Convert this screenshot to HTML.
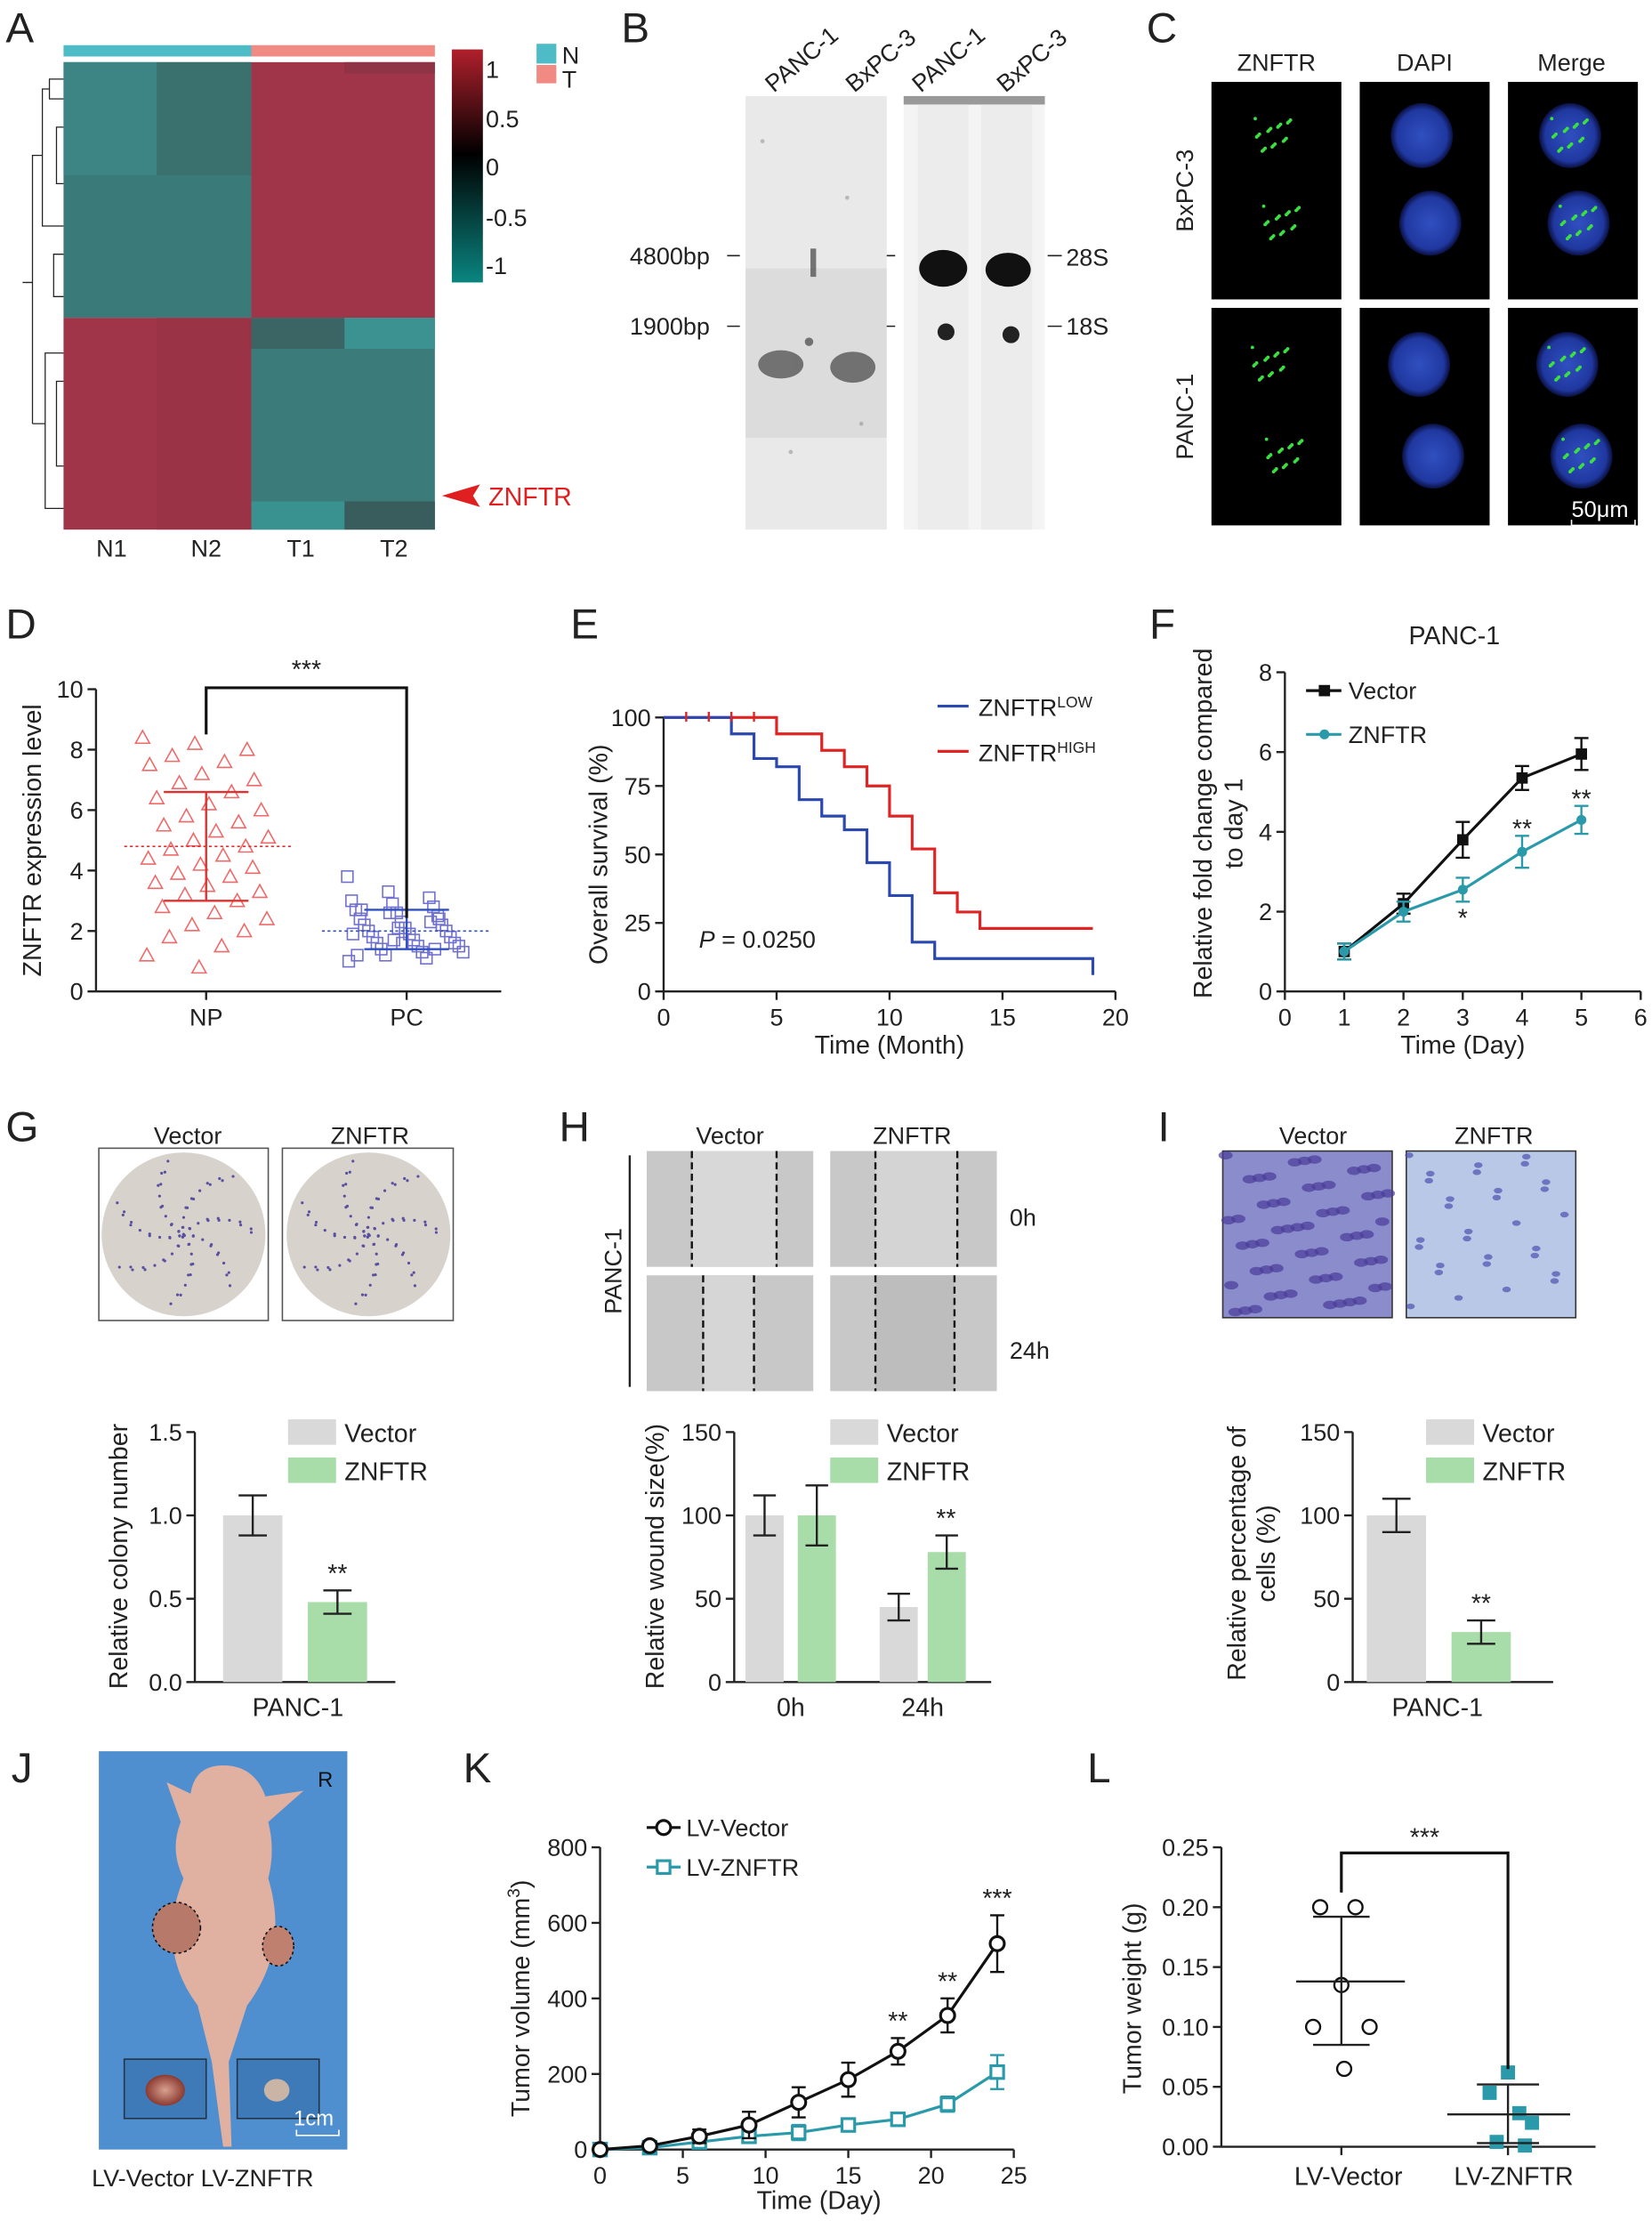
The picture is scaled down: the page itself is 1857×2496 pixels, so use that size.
<!DOCTYPE html>
<html><head><meta charset="utf-8"><style>
html,body{margin:0;padding:0;background:#fff}
svg{display:block}
text{font-family:"Liberation Sans",Arial,sans-serif;fill:#222}
</style></head><body>
<svg id="fig" width="1857" height="2496" viewBox="0 0 1170 1572.6" xmlns="http://www.w3.org/2000/svg">
<defs>
<linearGradient id="cbar" x1="0" y1="0" x2="0" y2="1">
<stop offset="0" stop-color="#b0202c"/><stop offset="0.45" stop-color="#000"/><stop offset="1" stop-color="#0a8580"/>
</linearGradient>
<radialGradient id="nuc"><stop offset="0" stop-color="#3050c0"/><stop offset="0.8" stop-color="#2038a0"/><stop offset="1" stop-color="#0a1040"/></radialGradient>
<radialGradient id="tum"><stop offset="0" stop-color="#d9a090"/><stop offset="1" stop-color="#8a3a30"/></radialGradient>
</defs>
<g font-size="30"><text x="4" y="30">A</text>
<text x="440" y="30">B</text>
<text x="812" y="30">C</text>
<text x="4" y="452">D</text>
<text x="404" y="452">E</text>
<text x="814" y="452">F</text>
<text x="4" y="808">G</text>
<text x="396" y="808">H</text>
<text x="820" y="808">I</text>
<text x="8" y="1262">J</text>
<text x="328" y="1262">K</text>
<text x="770" y="1262">L</text></g>

<!-- A heatmap -->
<g id="heat">
<rect x="45" y="32" width="133" height="8" fill="#4dbcc6"/>
<rect x="178" y="32" width="130" height="8" fill="#f08a82"/>
<rect x="45" y="44" width="133" height="181" fill="#3a7a78"/>
<rect x="178" y="44" width="130" height="181" fill="#a03448"/>
<rect x="45" y="225" width="133" height="150" fill="#a03448"/>
<rect x="178" y="225" width="130" height="150" fill="#3b7c7a"/>
<rect x="45" y="44" width="66" height="80" fill="#3c8584"/>
<rect x="111" y="44" width="67" height="80" fill="#3a716f"/>
<rect x="244" y="44" width="64" height="8" fill="#8e3446"/>
<rect x="178" y="225" width="66" height="22" fill="#3a6564"/>
<rect x="244" y="225" width="64" height="22" fill="#3c9290"/>
<rect x="178" y="355" width="66" height="20" fill="#3a9290"/>
<rect x="244" y="355" width="64" height="20" fill="#395c5c"/>
<rect x="111" y="225" width="67" height="150" fill="#983446" opacity="0.6"/>
</g>
<g stroke="#222" stroke-width="0.8" fill="none">
<path d="M45 56 H35 V70 H45 M35 63 H30 V160 H45 M30 110 H23 V300 M45 250 H32 V360 H45 M32 300 H23 M23 200 H16"/>
<path d="M45 90 H40 V130 H45 M45 180 H38 V210 H45 M45 270 H40 V330 H45"/>
</g>
<rect x="320" y="35" width="22" height="165" fill="url(#cbar)"/>
<g font-size="17"><text x="344" y="55">1</text><text x="344" y="90">0.5</text><text x="344" y="124">0</text><text x="344" y="160">-0.5</text><text x="344" y="194">-1</text></g>
<rect x="380" y="31" width="14" height="14" fill="#4dbcc6"/>
<rect x="380" y="46" width="14" height="13" fill="#f08a82"/>
<text x="398" y="45" font-size="17">N</text>
<text x="398" y="62" font-size="17">T</text>
<g font-size="17" text-anchor="middle"><text x="79" y="394">N1</text><text x="146" y="394">N2</text><text x="213" y="394">T1</text><text x="279" y="394">T2</text></g>
<path d="M313 351 L340 343 L335 351 L340 359 Z" fill="#e02020"/>
<text x="346" y="358" font-size="18" fill="#e02020" style="fill:#e02020">ZNFTR</text>

<!-- B blots -->
<rect x="528" y="68" width="100" height="307" fill="#e9e9e9"/>
<rect x="528" y="190" width="100" height="120" fill="#d0d0d0" opacity="0.5"/>
<g fill="#444" opacity="0.7"><ellipse cx="553" cy="258" rx="16" ry="10"/><ellipse cx="604" cy="260" rx="16" ry="11"/><rect x="574" y="176" width="4" height="20"/><circle cx="573" cy="242" r="3"/></g>
<g fill="#999" opacity="0.6"><circle cx="540" cy="100" r="1.5"/><circle cx="600" cy="140" r="1.5"/><circle cx="560" cy="320" r="1.5"/><circle cx="610" cy="300" r="1.5"/></g>
<rect x="640" y="68" width="100" height="307" fill="#f4f4f4"/>
<rect x="640" y="68" width="100" height="6" fill="#999"/>
<rect x="650" y="74" width="36" height="301" fill="#ececec"/><rect x="695" y="74" width="36" height="301" fill="#ececec"/>
<ellipse cx="668" cy="190" rx="17" ry="13" fill="#111"/><ellipse cx="714" cy="191" rx="16" ry="12" fill="#111"/>
<ellipse cx="670" cy="235" rx="6" ry="6" fill="#222"/><ellipse cx="716" cy="237" rx="6" ry="6" fill="#222"/>
<g font-size="17">
<text transform="translate(548,66) rotate(-40)">PANC-1</text><text transform="translate(605,66) rotate(-40)">BxPC-3</text>
<text transform="translate(652,66) rotate(-40)">PANC-1</text><text transform="translate(712,66) rotate(-40)">BxPC-3</text></g>
<g font-size="17"><text x="446" y="187">4800bp</text><text x="446" y="237">1900bp</text><text x="755" y="188">28S</text><text x="755" y="237">18S</text></g>
<g stroke="#222" stroke-width="1"><path d="M515 181 H524 M515 231 H524 M628 181 H634 M628 231 H634 M742 181 H752 M742 231 H752"/></g>

<!-- C microscopy -->
<g id="micro"></g>
<g font-size="17" text-anchor="middle"><text x="904" y="50">ZNFTR</text><text x="1009" y="50">DAPI</text><text x="1113" y="50">Merge</text></g>
<text transform="translate(845,135) rotate(-90)" font-size="17" text-anchor="middle">BxPC-3</text>
<text transform="translate(845,295) rotate(-90)" font-size="17" text-anchor="middle">PANC-1</text>
<text x="1113" y="366" font-size="16" style="fill:#fff">50μm</text>
<path d="M1113 368 V372 H1158 V368" stroke="#fff" fill="none"/>

<!-- charts -->
<g id="charts"></g>

<!-- G images -->
<g id="colony">
<rect x="70" y="813" width="120" height="122" fill="#fff" stroke="#555"/><circle cx="130" cy="874" r="58" fill="#d8d2cc"/>
<rect x="200" y="813" width="121" height="122" fill="#fff" stroke="#555"/><circle cx="261" cy="874" r="58" fill="#d8d2cc"/></g>
<text x="133" y="810" font-size="17" text-anchor="middle">Vector</text>
<text x="262" y="810" font-size="17" text-anchor="middle">ZNFTR</text>
<!-- H images -->
<g>
<rect x="458" y="815" width="118" height="82" fill="#c8c8c8"/><rect x="490" y="815" width="60" height="82" fill="#d8d8d8"/>
<rect x="588" y="815" width="118" height="82" fill="#c8c8c8"/><rect x="620" y="815" width="58" height="82" fill="#d4d4d4"/>
<rect x="458" y="903" width="118" height="82" fill="#c8c8c8"/><rect x="498" y="903" width="36" height="82" fill="#d6d6d6"/>
<rect x="588" y="903" width="118" height="82" fill="#c8c8c8"/><rect x="620" y="903" width="56" height="82" fill="#bdbdbd"/>
<g stroke="#111" stroke-dasharray="5 3" stroke-width="1.5"><path d="M490 815 V897 M550 815 V897 M620 815 V897 M678 815 V897 M498 903 V985 M534 903 V985 M620 903 V985 M676 903 V985"/></g></g>
<text x="517" y="810" font-size="17" text-anchor="middle">Vector</text>
<text x="646" y="810" font-size="17" text-anchor="middle">ZNFTR</text>
<text x="715" y="868" font-size="17">0h</text>
<text x="715" y="962" font-size="17">24h</text>
<path d="M446 818 V982" stroke="#222" stroke-width="1.5"/>
<text transform="translate(440,900) rotate(-90)" font-size="17" text-anchor="middle">PANC-1</text>
<!-- I images -->
<g id="transwell">
<rect x="866" y="815" width="120" height="118" fill="#8a8ccc" stroke="#333"/><rect x="996" y="815" width="120" height="118" fill="#b8c8e6" stroke="#333"/></g>
<text x="930" y="810" font-size="17" text-anchor="middle">Vector</text>
<text x="1058" y="810" font-size="17" text-anchor="middle">ZNFTR</text>
<!-- J photo -->
<g>
<rect x="70" y="1240" width="176" height="282" fill="#4f8fd0"/>
<path d="M158 1250 Q138 1250 135 1270 L118 1262 L128 1290 Q120 1310 130 1330 Q110 1380 140 1420 L150 1460 L158 1520 L164 1520 L162 1460 L175 1420 Q205 1380 190 1330 Q195 1310 190 1290 L215 1268 L188 1272 Q180 1250 158 1250 Z" fill="#e0b0a0"/>
<ellipse cx="125" cy="1365" rx="17" ry="18" fill="#b77a6a" stroke="#111" stroke-dasharray="2 2"/>
<ellipse cx="197" cy="1378" rx="11" ry="14" fill="#c08070" stroke="#111" stroke-dasharray="2 2"/>
<rect x="88" y="1458" width="58" height="42" fill="#3f7ab8" stroke="#234"/><ellipse cx="117" cy="1480" rx="14" ry="11" fill="url(#tum)"/>
<rect x="168" y="1458" width="58" height="42" fill="#3f7ab8" stroke="#234"/><ellipse cx="196" cy="1480" rx="9" ry="8" fill="#c9b4a6"/>
<text x="225" y="1265" font-size="15" style="fill:#111">R</text>
<text x="208" y="1505" font-size="15" style="fill:#fff">1cm</text>
<path d="M210 1508 V1512 H240 V1508" stroke="#fff" fill="none"/></g>
<text x="65" y="1548" font-size="17">LV-Vector LV-ZNFTR</text>
</svg>
<script>
// ===== data =====
const npValues=[8.4,8.2,8.0,7.8,7.6,7.5,7.2,7.0,6.9,6.6,6.4,6.2,6.0,5.8,5.6,5.5,5.3,5.1,5.0,4.8,4.7,4.5,4.4,4.2,4.1,3.9,3.8,3.6,3.5,3.3,3.2,3.0,2.8,2.6,2.4,2.2,2.0,1.8,1.5,1.2,0.8];
const pcValues=[3.8,3.3,3.1,3.0,2.9,2.8,2.7,2.6,2.5,2.4,2.3,2.2,2.2,2.1,2.0,2.0,1.9,1.8,1.8,1.7,1.6,1.6,1.5,1.5,1.4,1.3,1.3,1.2,1.1,1.0,2.6,2.3,1.9,1.7,1.4,1.2,2.1,2.4,2.7,1.6];
const npStats=[4.8,3.0,6.6]; const pcStats=[2.0,1.4,2.7];
const kmLowT=[0,3,4,5,6,7,8,9,10,11,12,19]; const kmLowS=[100,94,85,82,70,64,59,47,35,18,12,6];
const kmHighT=[0,5,7,8,9,10,11,12,13,14,19]; const kmHighS=[100,94,88,82,75,64,52,36,29,23,23];
const fDays=[1,2,3,4,5];
const fVector=[1.0,2.2,3.8,5.35,5.95]; const fVectorErr=[0.2,0.25,0.45,0.3,0.4];
const fZnftr=[1.0,2.0,2.55,3.5,4.3]; const fZnftrErr=[0.2,0.25,0.3,0.4,0.35];
const gVals=[1.0,0.48]; const gErr=[0.12,0.07];
const hGroups=['0h','24h']; const hVector=[100,45]; const hVectorErr=[12,8]; const hZnftr=[100,78]; const hZnftrErr=[18,10];
const iVals=[100,30]; const iErr=[10,7];
const kDays=[0,3,6,9,12,15,18,21,24];
const kVector=[0,10,35,65,125,185,260,355,545]; const kVectorErr=[5,8,18,35,40,45,35,45,75];
const kZnftr=[0,5,20,35,45,65,80,120,205]; const kZnftrErr=[3,5,10,12,20,15,15,20,45];
const lVector=[0.2,0.2,0.135,0.1,0.1,0.065]; const lZnftr=[0.062,0.045,0.028,0.02,0.004,0.001];
const lVecStats=[0.138,0.085,0.192]; const lZnStats=[0.027,0.003,0.052];

const NS='http://www.w3.org/2000/svg';
const root=document.getElementById('charts');
function mk(tag,a,p){const e=document.createElementNS(NS,tag);for(const k in a)e.setAttribute(k,a[k]);(p||root).appendChild(e);return e;}
function txt(x,y,s,size,anchor,rot){const t=mk('text',{x:x,y:y,'font-size':size||17,'text-anchor':anchor||'middle'});if(rot){t.setAttribute('transform','rotate(-90 '+x+' '+y+')');}t.textContent=s;return t;}
function line(x1,y1,x2,y2,c,w){return mk('line',{x1:x1,y1:y1,x2:x2,y2:y2,stroke:c||'#222','stroke-width':w||1.5});}
function yAxis(x,y0,y1,ticks,fy,fmt){line(x,y0,x,y1);ticks.forEach(v=>{line(x-6,fy(v),x,fy(v));txt(x-9,fy(v)+6,fmt?fmt(v):v,17,'end');});}
function xAxisNum(y,x0,x1,ticks,fx){line(x0,y,x1,y);ticks.forEach(v=>{line(fx(v),y,fx(v),y+6);txt(fx(v),y+24,v,17);});}
function errBar(x,y1,y2,w,c){line(x,y1,x,y2,c);line(x-w,y1,x+w,y1,c);line(x-w,y2,x+w,y2,c);}

// ===== D =====
const yD=v=>702-v*21.4;
yAxis(68,488,702,[0,2,4,6,8,10],yD);line(68,702,355,702);
[146,288].forEach(x=>line(x,702,x,708));txt(146,726,'NP');txt(288,726,'PC');
txt(29,595,'ZNFTR expression level',18,'middle',true);
npValues.forEach((v,i)=>{const x=146+((i*37)%90-45);const y=yD(v);
 const m=mk('path',{d:`M${x} ${y-5} L${x+5} ${y+4} L${x-5} ${y+4} Z`,fill:'none',stroke:'#ee6a6a','stroke-width':1});
 
 });
pcValues.forEach((v,i)=>{const x=288+((i*29)%84-42);const y=yD(v);
 const m=mk('rect',{x:x-4,y:y-4,width:8,height:8,fill:'none',stroke:'#7070d0','stroke-width':1});
 
 });
mk('line',{x1:88,x2:206,y1:yD(npStats[0]),y2:yD(npStats[0]),stroke:'#e03030','stroke-dasharray':'2 2'});
errBar(146,yD(npStats[1]),yD(npStats[2]),30,'#e03030');
mk('line',{x1:228,x2:348,y1:yD(pcStats[0]),y2:yD(pcStats[0]),stroke:'#3050c0','stroke-dasharray':'2 2'});
errBar(288,yD(pcStats[1]),yD(pcStats[2]),30,'#3050c0');
mk('path',{d:'M146 520 V487 H288 V650',fill:'none',stroke:'#111','stroke-width':2});txt(217,480,'***',18);

// ===== E =====
const xE=t=>470+t*16, yE=s=>702-s*1.94;
yAxis(470,508,702,[0,25,50,75,100],yE);xAxisNum(702,470,790,[0,5,10,15,20],xE);
txt(630,746,'Time (Month)',18);txt(430,605,'Overall survival (%)',18,'middle',true);
function km(T,S,c,nm){let d=`M${xE(T[0])} ${yE(S[0])}`;for(let i=1;i<T.length;i++){d+=` H${xE(T[i])} V${yE(S[i])}`;}
 const p=mk('path',{d:d,fill:'none',stroke:c,'stroke-width':2});
 
 }
km(kmHighT,kmHighS,'#e02424','km-high-line');km(kmLowT,kmLowS,'#2a48b0','km-low-line');
[1,2,3,4].forEach(t=>line(xE(t),yE(100)-4,xE(t),yE(100)+3,'#e02424'));
line(664,500,686,500,'#2a48b0',2);line(664,532,686,532,'#e02424',2);
mk('text',{x:693,y:507,'font-size':17}).innerHTML='ZNFTR<tspan font-size="11" dy="-6">LOW</tspan>';
mk('text',{x:693,y:539,'font-size':17}).innerHTML='ZNFTR<tspan font-size="11" dy="-6">HIGH</tspan>';
mk('text',{x:495,y:671,'font-size':17}).innerHTML='<tspan font-style="italic">P</tspan> = 0.0250';

// ===== F =====
const xF=d=>910+d*42, yF=v=>702-v*28.25;
yAxis(910,476,702,[0,2,4,6,8],yF);xAxisNum(702,910,1162,[0,1,2,3,4,5,6],xF);
txt(1036,746,'Time (Day)',18);txt(1030,456,'PANC-1',18);
txt(858,583,'Relative fold change compared',18,'middle',true);txt(880,583,'to day 1',18,'middle',true);
function series(X,Y,E,fx,fy,c,nm,shape){let d='';X.forEach((x,i)=>d+=(i?'L':'M')+fx(x)+' '+fy(Y[i])+' ');
 const p=mk('path',{d:d,fill:'none',stroke:c,'stroke-width':2});
 
 
 X.forEach((x,i)=>{errBar(fx(x),fy(Y[i]-E[i]),fy(Y[i]+E[i]),5,c);let m;
  if(shape==='sq')m=mk('rect',{x:fx(x)-4,y:fy(Y[i])-4,width:8,height:8,fill:c});
  else if(shape==='dot')m=mk('circle',{cx:fx(x),cy:fy(Y[i]),r:3.5,fill:c});
  else if(shape==='oc')m=mk('circle',{cx:fx(x),cy:fy(Y[i]),r:5,fill:'#fff',stroke:c,'stroke-width':2});
  else m=mk('rect',{x:fx(x)-4.5,y:fy(Y[i])-4.5,width:9,height:9,fill:'#fff',stroke:c,'stroke-width':2});
  
  });}
series(fDays,fVector,fVectorErr,xF,yF,'#111','f-vector','sq');
series(fDays,fZnftr,fZnftrErr,xF,yF,'#2a9aaa','f-znftr','dot');
line(925,489,950,489,'#111',2);mk('rect',{x:934,y:485,width:8,height:8,fill:'#111'});txt(955,495,'Vector',17,'start');
line(925,520,950,520,'#2a9aaa',2);mk('circle',{cx:938,cy:520,r:3.5,fill:'#2a9aaa'});txt(955,526,'ZNFTR',17,'start');
txt(xF(3),yF(2.05)+12,'*',18);txt(xF(4),yF(4.0)+4,'**',18);txt(xF(5),yF(4.75)+4,'**',18);

// ===== bar helpers =====
function bar(x,w,v,fy,c,nm){const b=mk('rect',{x:x,y:fy(v),width:w,height:fy(0)-fy(v),fill:c});
 
 }
function barLegend(x,y){mk('rect',{x:x,y:y-15,width:34,height:18,fill:'#d9d9d9'});txt(x+40,y+1,'Vector',18,'start');
 mk('rect',{x:x,y:y+12,width:34,height:18,fill:'#a8dca8'});txt(x+40,y+28,'ZNFTR',18,'start');}
// G
const yG=v=>1191-v*118;
yAxis(138,1014,1191,[0,0.5,1,1.5],yG,v=>v.toFixed(1));line(138,1191,280,1191);
bar(158,42,gVals[0],yG,'#d9d9d9','g-bar-vector');bar(218,42,gVals[1],yG,'#a8dca8','g-bar-znftr');
errBar(179,yG(gVals[0]-gErr[0]),yG(gVals[0]+gErr[0]),10);errBar(239,yG(gVals[1]-gErr[1]),yG(gVals[1]+gErr[1]),10);
txt(239,yG(gVals[1]+gErr[1])-6,'**',18);txt(211,1215,'PANC-1',18);txt(90,1102,'Relative colony number',18,'middle',true);barLegend(204,1020);
// H
const yH=v=>1191-v*1.18;
yAxis(520,1014,1191,[0,50,100,150],yH);line(520,1191,702,1191);
[0,1].forEach(i=>{const x0=i?623:528;const x1=i?657:565;
 bar(x0,27,hVector[i],yH,'#d9d9d9','h-bar-vector-'+hGroups[i]);bar(x1,27,hZnftr[i],yH,'#a8dca8','h-bar-znftr-'+hGroups[i]);
 errBar(x0+13.5,yH(hVector[i]-hVectorErr[i]),yH(hVector[i]+hVectorErr[i]),8);errBar(x1+13.5,yH(hZnftr[i]-hZnftrErr[i]),yH(hZnftr[i]+hZnftrErr[i]),8);
 txt((x0+x1+27)/2,1215,hGroups[i],18);});
txt(670,yH(hZnftr[1]+hZnftrErr[1])-6,'**',18);txt(470,1102,'Relative wound size(%)',18,'middle',true);barLegend(588,1020);
// I
yAxis(958,1014,1191,[0,50,100,150],yH);line(958,1191,1100,1191);
bar(968,42,iVals[0],yH,'#d9d9d9','i-bar-vector');bar(1028,42,iVals[1],yH,'#a8dca8','i-bar-znftr');
errBar(989,yH(iVals[0]-iErr[0]),yH(iVals[0]+iErr[0]),10);errBar(1049,yH(iVals[1]-iErr[1]),yH(iVals[1]+iErr[1]),10);
txt(1049,yH(iVals[1]+iErr[1])-6,'**',18);txt(1018,1215,'PANC-1',18);
txt(882,1100,'Relative percentage of',18,'middle',true);txt(903,1100,'cells (%)',18,'middle',true);barLegend(1010,1020);

// ===== K =====
const xK=d=>425+d*11.72, yK=v=>1522-v*0.2675;
yAxis(425,1308,1522,[0,200,400,600,800],yK);xAxisNum(1522,425,718,[0,5,10,15,20,25],xK);
txt(580,1564,'Time (Day)',18);mk('text',{x:375,y:1415,'font-size':18,'text-anchor':'middle',transform:'rotate(-90 375 1415)'}).innerHTML='Tumor volume (mm<tspan font-size="12" dy="-7">3</tspan><tspan dy="7">)</tspan>';
series(kDays,kZnftr,kZnftrErr,xK,yK,'#2a9aaa','k-znftr','os');
series(kDays,kVector,kVectorErr,xK,yK,'#111','k-vector','oc');
line(458,1294,482,1294,'#111',2);mk('circle',{cx:470,cy:1294,r:5,fill:'#fff',stroke:'#111','stroke-width':2});txt(486,1300,'LV-Vector',17,'start');
line(458,1322,482,1322,'#2a9aaa',2);mk('rect',{x:465.5,y:1317.5,width:9,height:9,fill:'#fff',stroke:'#2a9aaa','stroke-width':2});txt(486,1328,'LV-ZNFTR',17,'start');
txt(xK(18),yK(295)-6,'**',18);txt(xK(21),yK(400)-6,'**',18);txt(xK(24),yK(620)-6,'***',18);

// ===== L =====
const yL=v=>1520-v*848;
yAxis(865,1308,1520,[0,0.05,0.1,0.15,0.2,0.25],yL,v=>v.toFixed(2));line(865,1520,1130,1520);
[950,1068].forEach(x=>line(x,1520,x,1526));txt(955,1547,'LV-Vector',18);txt(1072,1547,'LV-ZNFTR',18);
txt(808,1415,'Tumor weight (g)',18,'middle',true);
const lvx=[935,960,950,930,970,952], lzx=[1068,1055,1076,1085,1060,1080];
lVector.forEach((v,i)=>{const c=mk('circle',{cx:lvx[i],cy:yL(v),r:5,fill:'#fff',stroke:'#111','stroke-width':1.5});
 
 });
lZnftr.forEach((v,i)=>{const c=mk('rect',{x:lzx[i]-5,y:yL(v)-5,width:10,height:10,fill:'#2a9aaa'});
 
 });
line(918,yL(lVecStats[0]),995,yL(lVecStats[0]));errBar(950,yL(lVecStats[1]),yL(lVecStats[2]),20);
line(1025,yL(lZnStats[0]),1112,yL(lZnStats[0]));errBar(1068,yL(lZnStats[1]),yL(lZnStats[2]),22);
mk('path',{d:'M950 1340 V1312 H1068 V1465',fill:'none',stroke:'#111','stroke-width':2});txt(1009,1307,'***',18);

// ===== C microscopy =====
const mg=document.getElementById('micro');
const cols=[858,963,1068], rows=[58,218];
rows.forEach((ry,r)=>cols.forEach((cx,c)=>{mk('rect',{x:cx,y:ry,width:92,height:154,fill:'#000'},mg);
 const cells=r===0?[[44,38],[50,100]]:[[42,40],[52,105]];
 cells.forEach(([dx,dy])=>{if(c>0)mk('ellipse',{cx:cx+dx,cy:ry+dy,rx:22,ry:23,fill:'url(#nuc)'},mg);
  if(c!==1){for(let k=0;k<22;k++){mk('circle',{cx:cx+dx-13+(k*11)%26,cy:ry+dy-12+(k*7)%24,r:1.2,fill:'#3be040'},mg);}}});}));
// colony dots (decorative texture)
const cg=document.getElementById('colony');
[130,261].forEach(cx0=>{for(let k=0;k<90;k++){const a=k*2.4,r=(k*37%55);mk('circle',{cx:cx0+r*Math.cos(a),cy:874+r*Math.sin(a),r:1,fill:'#5a50a0'},cg);}});
const tg=document.getElementById('transwell');
for(let k=0;k<60;k++){mk('ellipse',{cx:868+(k*37)%116,cy:818+(k*53)%112,rx:5,ry:3,fill:'#4a3c9a',opacity:0.7},tg);}
for(let k=0;k<30;k++){mk('ellipse',{cx:998+(k*41)%116,cy:818+(k*59)%112,rx:3,ry:2,fill:'#5050b0',opacity:0.7},tg);}
</script>
</body></html>
